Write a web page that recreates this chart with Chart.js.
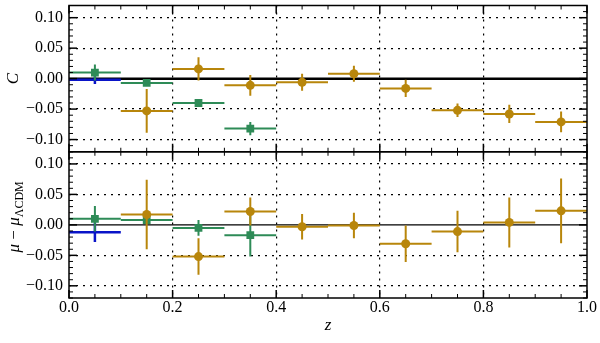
<!DOCTYPE html>
<html>
<head>
<meta charset="utf-8">
<script src="https://cdn.jsdelivr.net/npm/chart.js@4.4.1/dist/chart.umd.min.js"></script>
<style>
  html, body { margin: 0; padding: 0; background: #fff; }
  #chart { display: block; }
</style>
</head>
<body>
<canvas id="chart" width="600" height="343"></canvas>
<script>
// tick labels
const xTicks = [0.0, 0.2, 0.4, 0.6, 0.8, 1.0];
const yTicks = [-0.10, -0.05, 0.00, 0.05, 0.10];

// redshift bins (centres), every bin is 0.1 wide
const zGreen = [0.05, 0.15, 0.25, 0.35];
const zBlue = [0.05];
const zGold = [0.15, 0.25, 0.35, 0.45, 0.55, 0.65, 0.75, 0.85, 0.95];
const zHalfWidth = 0.05;

// top panel: C
const cGreen = [0.010, -0.007, -0.040, -0.082];
const cGreenErr = [0.013, 0.005, 0.004, 0.011];
const cBlue = [-0.002];
const cBlueErr = [0.007];
const cGold = [-0.053, 0.016, -0.011, -0.006, 0.008, -0.016, -0.052, -0.058, -0.071];
const cGoldErr = [0.036, 0.019, 0.017, 0.014, 0.013, 0.014, 0.011, 0.015, 0.017];

// bottom panel: mu - mu_LCDM
const muGreen = [0.010, 0.008, -0.005, -0.017];
const muGreenErr = [0.021, 0.006, 0.013, 0.035];
const muBlue = [-0.012];
const muBlueErr = [0.016];
const muGold = [0.017, -0.052, 0.022, -0.003, -0.001, -0.031, -0.011, 0.004, 0.023];
const muGoldErr = [0.057, 0.030, 0.023, 0.021, 0.021, 0.030, 0.034, 0.041, 0.053];

const GREEN = '#2e8b57';
const GOLD = '#b8860b';
const BLUE = '#0a14c8';
const SERIF = '"Liberation Serif", "Times New Roman", serif';

function series(zs, ys, errs, axis, color, style, radius, width) {
    return {
        yAxisID: axis,
        data: zs.map((z, i) => ({ x: z, y: ys[i] })),
        yErr: errs,
        xErr: zs.map(() => zHalfWidth),
        errWidth: width,
        backgroundColor: color,
        borderColor: color,
        borderWidth: 0,
        pointStyle: style,
        pointRadius: radius,
        pointHoverRadius: radius,
        showLine: false
    };
}

// error bars, drawn just before each dataset's markers
const errorBars = {
    id: 'errorBars',
    beforeDatasetDraw(chart, args) {
        const ds = chart.data.datasets[args.index];
        const xs = chart.scales.x;
        const ys = chart.scales[ds.yAxisID];
        const ctx = chart.ctx;
        ctx.save();
        ctx.strokeStyle = ds.borderColor;
        ctx.lineWidth = ds.errWidth;
        ds.data.forEach((p, i) => {
            const px = xs.getPixelForValue(p.x);
            const py = ys.getPixelForValue(p.y);
            ctx.beginPath();
            ctx.moveTo(xs.getPixelForValue(p.x - ds.xErr[i]), py);
            ctx.lineTo(xs.getPixelForValue(p.x + ds.xErr[i]), py);
            ctx.moveTo(px, ys.getPixelForValue(p.y - ds.yErr[i]));
            ctx.lineTo(px, ys.getPixelForValue(p.y + ds.yErr[i]));
            ctx.stroke();
        });
        ctx.restore();
    }
};

// zero lines under the data
const zeroLines = {
    id: 'zeroLines',
    beforeDatasetsDraw(chart) {
        const { ctx, chartArea: a, scales } = chart;
        ctx.save();
        ctx.strokeStyle = '#000';
        [['yTop', 2.5], ['yBot', 1.2]].forEach(([id, w]) => {
            const y = scales[id].getPixelForValue(0);
            ctx.lineWidth = w;
            ctx.beginPath();
            ctx.moveTo(a.left, y);
            ctx.lineTo(a.right, y);
            ctx.stroke();
        });
        ctx.restore();
    }
};

// frame of each panel plus inward major/minor ticks
const frameTicks = {
    id: 'frameTicks',
    afterDatasetsDraw(chart) {
        const { ctx, chartArea: a, scales } = chart;
        const xs = scales.x;
        ctx.save();
        ctx.strokeStyle = '#000';
        const seg = (x1, y1, x2, y2) => {
            ctx.beginPath();
            ctx.moveTo(x1, y1);
            ctx.lineTo(x2, y2);
            ctx.stroke();
        };
        ['yTop', 'yBot'].forEach(id => {
            const ys = scales[id];
            const top = ys.top, bot = ys.bottom;
            for (let k = 0; k <= 20; k++) {
                const major = k % 4 === 0;
                const px = xs.getPixelForValue(k * 0.05);
                const len = major ? 8 : 4;
                ctx.lineWidth = major ? 1.5 : 1;
                seg(px, top, px, top + len);
                seg(px, bot, px, bot - len);
            }
            for (let k = -12; k <= 12; k++) {
                const major = k % 5 === 0;
                const py = ys.getPixelForValue(k / 100);
                const len = major ? 8 : 4;
                ctx.lineWidth = major ? 1.5 : 1;
                seg(a.left, py, a.left + len, py);
                seg(a.right, py, a.right - len, py);
            }
            ctx.lineWidth = 1.5;
            ctx.strokeRect(a.left, top, a.right - a.left, bot - top);
        });
        ctx.restore();
    }
};

// rotated y titles
const yTitles = {
    id: 'yTitles',
    afterDraw(chart) {
        const { ctx, scales } = chart;
        ctx.save();
        ctx.fillStyle = '#000';
        ctx.textBaseline = 'alphabetic';

        const yt = scales.yTop;
        ctx.save();
        ctx.translate(18, (yt.top + yt.bottom) / 2);
        ctx.rotate(-Math.PI / 2);
        ctx.font = 'italic 17px ' + SERIF;
        ctx.textAlign = 'center';
        ctx.fillText('C', 0, 0);
        ctx.restore();

        const yb = scales.yBot;
        const parts = [
            ['μ', 'italic 17px ' + SERIF, 0],
            [' − ', '17px ' + SERIF, 0],
            ['μ', 'italic 17px ' + SERIF, 0],
            ['ΛCDM', '12px ' + SERIF, 4]
        ];
        let w = 0;
        parts.forEach(p => { ctx.font = p[1]; w += ctx.measureText(p[0]).width; });
        ctx.save();
        ctx.translate(18.5, (yb.top + yb.bottom) / 2 - 8);
        ctx.rotate(-Math.PI / 2);
        ctx.textAlign = 'left';
        let x = -w / 2;
        parts.forEach(p => {
            ctx.font = p[1];
            ctx.fillText(p[0], x, p[2]);
            x += ctx.measureText(p[0]).width;
        });
        ctx.restore();
        ctx.restore();
    }
};

function yAxis(weight) {
    return {
        type: 'linear',
        position: 'left',
        stack: 'panels',
        stackWeight: 1,
        weight: weight,
        min: -0.12,
        max: 0.12,
        afterBuildTicks: s => { s.ticks = yTicks.map(v => ({ value: v })); },
        afterFit: s => { s.width = 69; s.paddingTop = 0; s.paddingBottom = 0; },
        ticks: {
            autoSkip: false,
            padding: 6,
            color: '#000',
            font: { family: SERIF, size: 16 },
            callback: v => (v < 0 ? '−' : '') + Math.abs(v).toFixed(2)
        },
        grid: {
            drawTicks: false,
            lineWidth: 1.2,
            color: c => (c.tick && Math.abs(c.tick.value) < 1e-9) ? 'rgba(0,0,0,0)' : '#000'
        },
        border: { display: false, dash: [2, 5] }
    };
}

new Chart(document.getElementById('chart'), {
    type: 'scatter',
    data: {
        datasets: [
            series(zGold, cGold, cGoldErr, 'yTop', GOLD, 'circle', 4.5, 2),
            series(zGreen, cGreen, cGreenErr, 'yTop', GREEN, 'rect', 5.5, 2),
            series(zBlue, cBlue, cBlueErr, 'yTop', BLUE, false, 0, 2.5),
            series(zGold, muGold, muGoldErr, 'yBot', GOLD, 'circle', 4.5, 2),
            series(zGreen, muGreen, muGreenErr, 'yBot', GREEN, 'rect', 5.5, 2),
            series(zBlue, muBlue, muBlueErr, 'yBot', BLUE, false, 0, 2.5)
        ]
    },
    options: {
        responsive: false,
        animation: false,
        devicePixelRatio: 1,
        layout: { padding: { top: 5, right: 13, bottom: 0, left: 0 } },
        plugins: { legend: { display: false }, tooltip: { enabled: false } },
        scales: {
            x: {
                type: 'linear',
                position: 'bottom',
                min: 0,
                max: 1,
                afterBuildTicks: s => { s.ticks = xTicks.map(v => ({ value: v })); },
                afterFit: s => { s.height = 45; s.paddingLeft = 0; s.paddingRight = 0; },
                ticks: {
                    autoSkip: false,
                    maxRotation: 0,
                    padding: 0,
                    color: '#000',
                    font: { family: SERIF, size: 16 },
                    callback: v => v.toFixed(1)
                },
                grid: {
                    drawTicks: false,
                    lineWidth: 1.2,
                    color: c => (c.tick && (c.tick.value === 0 || c.tick.value === 1)) ? 'rgba(0,0,0,0)' : '#000'
                },
                border: { display: false, dash: [2, 5] },
                title: {
                    display: true,
                    text: 'z',
                    color: '#000',
                    font: { family: SERIF, size: 17, style: 'italic' },
                    padding: { top: 0, bottom: 7 }
                }
            },
            yBot: yAxis(0),
            yTop: yAxis(1)
        }
    },
    plugins: [zeroLines, errorBars, frameTicks, yTitles]
});
</script>
</body>
</html>
